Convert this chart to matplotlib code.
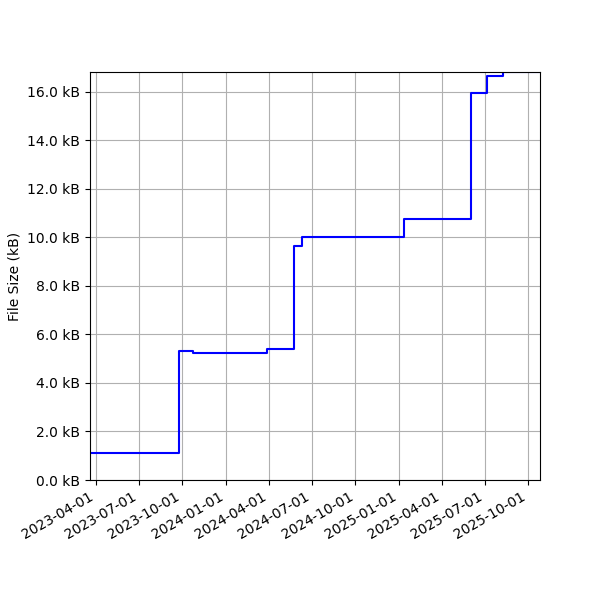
import matplotlib
matplotlib.use('Agg')
from matplotlib import pyplot as plt
from matplotlib.ticker import FuncFormatter
import matplotlib.dates as mdates
import numpy as np

dates = np.array(['2023-03-20', '2023-09-24', '2023-10-24', '2024-03-29', '2024-05-25',
                  '2024-06-09', '2025-01-11', '2025-06-03', '2025-07-05', '2025-08-09',
                  '2025-10-26'], dtype='datetime64[D]')
sizes = [1100, 5300, 5250, 5400, 9650, 10000, 10750, 15950, 16650, 16820, 16820]

fig, ax = plt.subplots(figsize=(6, 6), dpi=100)
ax.plot(dates, sizes, color='blue', drawstyle='steps-post')
ax.set_ylabel('File Size (kB)')
ax.yaxis.set_major_formatter(FuncFormatter(lambda v, p: f'{v/1000:.1f} kB'))
ax.set_ylim(0, max(sizes))
ax.set_xlim(dates[0], dates[-1])
ax.xaxis.set_major_locator(mdates.MonthLocator(bymonth=[1, 4, 7, 10]))
ax.xaxis.set_major_formatter(mdates.DateFormatter('%Y-%m-%d'))
ax.grid(True)
fig.autofmt_xdate()
ax.set_position([0.15, 0.2, 0.75, 0.68])
fig.savefig('out.png')
